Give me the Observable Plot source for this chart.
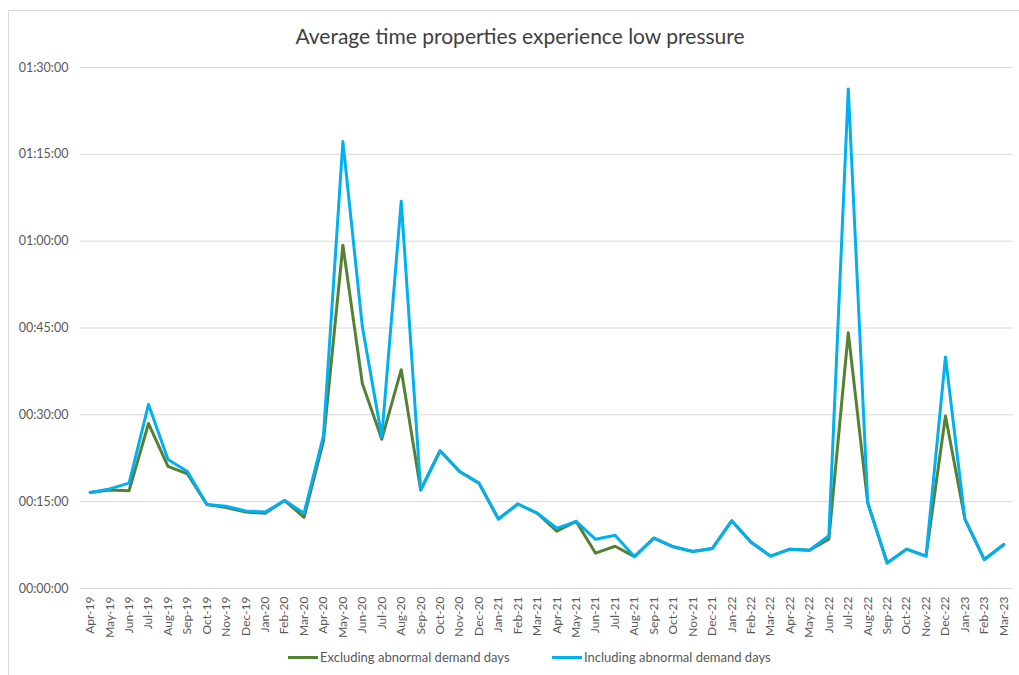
<!DOCTYPE html>
<html>
<head>
<meta charset="utf-8">
<script src="https://cdn.jsdelivr.net/npm/d3@7"></script>
<script src="https://cdn.jsdelivr.net/npm/@observablehq/plot@0.6"></script>
<style>
  html, body { margin: 0; padding: 0; background: #fff; overflow: hidden; }
  body { width: 1019px; height: 675px; position: relative; font-family: Lato, "Open Sans", sans-serif; }
  #frame { position: absolute; left: 8px; top: 10px; width: 1100px; height: 700px; border: 1px solid #d9d9d9; box-sizing: border-box; }
  #chart { position: absolute; left: 0; top: 0; }
  #title { position: absolute; top: 23px; left: 0; width: 1040px; text-align: center; font-size: 21px; color: #404040; }
  .leg { position: absolute; top: 649px; font-size: 13px; color: #595959; display: flex; align-items: center; white-space: nowrap; }
  .sw { width: 30px; height: 3px; margin-right: 2px; }
</style>
</head>
<body>
<div id="frame"></div>
<div id="chart"></div>
<div id="title">Average time properties experience low pressure</div>
<div class="leg" style="left:288px"><span class="sw" style="background:#548235"></span><span>Excluding abnormal demand days</span></div>
<div class="leg" style="left:552px"><span class="sw" style="background:#00B0F0"></span><span>Including abnormal demand days</span></div>
<script>
const months = ["Apr-19","May-19","Jun-19","Jul-19","Aug-19","Sep-19","Oct-19","Nov-19","Dec-19","Jan-20","Feb-20","Mar-20",
  "Apr-20","May-20","Jun-20","Jul-20","Aug-20","Sep-20","Oct-20","Nov-20","Dec-20","Jan-21","Feb-21","Mar-21",
  "Apr-21","May-21","Jun-21","Jul-21","Aug-21","Sep-21","Oct-21","Nov-21","Dec-21","Jan-22","Feb-22","Mar-22",
  "Apr-22","May-22","Jun-22","Jul-22","Aug-22","Sep-22","Oct-22","Nov-22","Dec-22","Jan-23","Feb-23","Mar-23"];

// values in minutes
const excluding = [16.6,17.0,16.9,28.5,21.1,19.8,14.5,14.0,13.2,13.0,15.2,12.3,
  25.5,59.3,35.4,25.8,37.8,17.0,23.8,20.2,18.2,12.0,14.6,13.0,
  9.9,11.6,6.1,7.3,5.5,8.7,7.2,6.4,6.9,11.7,8.0,5.6,
  6.8,6.6,8.5,44.2,14.8,4.4,6.8,5.6,29.8,12.0,5.0,7.6];
const including = [16.6,17.2,18.2,31.8,22.3,20.2,14.5,14.2,13.4,13.2,15.2,13.0,
  26.4,77.2,45.2,26.2,66.9,17.0,23.8,20.2,18.2,12.0,14.6,13.0,
  10.4,11.6,8.5,9.2,5.5,8.7,7.2,6.4,6.9,11.7,8.0,5.6,
  6.8,6.6,9.1,86.3,14.8,4.4,6.8,5.6,40.0,12.0,5.0,7.6];

const yTicks = [0,15,30,45,60,75,90];
const seriesNames = ["Excluding abnormal demand days","Including abnormal demand days"];
const seriesColors = ["#548235","#00B0F0"];

const pad = n => String(n).padStart(2,"0");
const fmt = m => { const s = Math.round(m*60); return pad(Math.floor(s/3600)) + ":" + pad(Math.floor(s/60)%60) + ":" + pad(s%60); };

const rows = [];
months.forEach((m,i) => {
  rows.push({month:m, series:seriesNames[0], value:excluding[i]});
  rows.push({month:m, series:seriesNames[1], value:including[i]});
});

const chart = Plot.plot({
  width: 1019,
  height: 645,
  marginLeft: 80,
  marginRight: 6,
  marginTop: 67,
  marginBottom: 57,
  style: {fontFamily: "Lato, 'Open Sans', sans-serif", fontSize: "12.5px", color: "#595959", background: "transparent"},
  x: {type: "point", domain: months, padding: 0.5, round: false, label: null},
  y: {domain: [0, 90], label: null},
  color: {domain: seriesNames, range: seriesColors},
  marks: [
    Plot.gridY(yTicks, {stroke: "#d9d9d9", strokeOpacity: 1, strokeWidth: 1}),
    Plot.axisY(yTicks, {tickSize: 0, tickPadding: 12, tickFormat: fmt, fill: "#595959", label: null}),
    Plot.axisX({tickSize: 0, tickPadding: 8, tickRotate: -90, fill: "#595959", label: null, fontSize: 12}),
    Plot.lineY(rows.filter(d => d.series === seriesNames[0]), {x: "month", y: "value", stroke: "series", strokeWidth: 3, strokeLinejoin: "round"}),
    Plot.lineY(rows.filter(d => d.series === seriesNames[1]), {x: "month", y: "value", stroke: "series", strokeWidth: 3, strokeLinejoin: "round"})
  ]
});
document.getElementById("chart").appendChild(chart);
</script>
</body>
</html>
